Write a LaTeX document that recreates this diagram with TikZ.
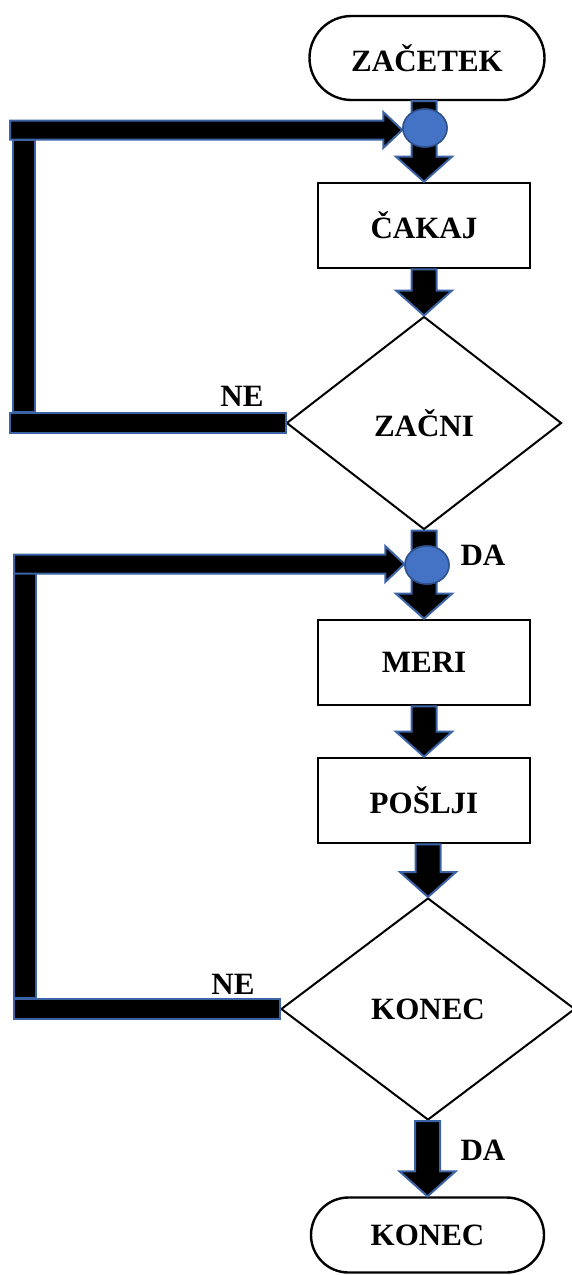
\documentclass[tikz,border=0pt]{standalone}
\usepackage{fontspec}
\setmainfont{Liberation Serif}
\usetikzlibrary{shapes.geometric,calc}
\definecolor{arrowblue}{HTML}{3C63A5}
\definecolor{jfill}{HTML}{4472C4}
\definecolor{jdraw}{HTML}{2F528F}
\newcommand\flowdown[2]{\path[blockarrow] let \p1=(#1), \p2=(#2) in
  (\x2-12.5pt,\y1) -- (\x2+12.5pt,\y1) -- (\x2+12.5pt,\y2+25pt) -- (\x2+28pt,\y2+25pt)
  -- (\x2,\y2) -- (\x2-28pt,\y2+25pt) -- (\x2-12.5pt,\y2+25pt) -- cycle;}
\newcommand\flowright[2]{\path[blockarrow] let \p1=(#1), \p2=(#2) in
  (\x1,\y1+9.5pt) -- (\x2-19pt,\y1+9.5pt) -- (\x2-19pt,\y1+18pt) -- (\x2,\y1)
  -- (\x2-19pt,\y1-18pt) -- (\x2-19pt,\y1-9.5pt) -- (\x1,\y1-9.5pt) -- cycle;}
\newcommand\flowbarh[2]{\path[blockarrow] let \p1=(#1), \p2=(#2) in
  (\x2,\y1+10pt) rectangle (\x1,\y1-10pt);}
\newcommand\flowbarv[2]{\path[blockarrow] let \p1=(#1), \p2=(#2) in
  (\x1-11pt,\y1) rectangle (\x1+11pt,\y2);}
\begin{document}
\begin{tikzpicture}[x=1pt,y=-1pt,
  every node/.style={font=\fontsize{31}{33}\selectfont\bfseries},
  term/.style={draw=black, line width=2.4pt, fill=white, rectangle, inner sep=0pt},
  proc/.style={draw=black, line width=2.6pt, fill=white, rectangle, minimum width=212pt, minimum height=85pt, inner sep=0pt},
  decision/.style={draw=black, line width=2pt, fill=white, diamond, inner sep=0pt},
  junction/.style={ellipse, fill=jfill, draw=jdraw, line width=1.5pt, minimum width=44pt, minimum height=38pt, inner sep=0pt},
  blockarrow/.style={fill=black, draw=arrowblue, line width=2pt, line join=miter},
  lbl/.style={inner sep=0pt}]
\useasboundingbox (0,0) rectangle (571,1275);

% nodes
\node[term, minimum width=235pt, minimum height=84pt, rounded corners=42pt] (start) at (427,58) {ZAČETEK};
\node[proc] (wait) at (424,225.5) {ČAKAJ};
\node[decision, minimum width=275pt, minimum height=213pt] (zacni) at (424,423) {ZAČNI};
\node[proc] (meri) at (424,662.5) {MERI};
\node[proc] (poslji) at (424,800.5) {POŠLJI};
\node[decision, minimum width=294pt, minimum height=222pt] (konec) at (428,1009) {KONEC};
\node[term, minimum width=233pt, minimum height=75pt, rounded corners=37.5pt] (end) at (427.5,1235) {KONEC};

% loop coordinates
\coordinate (l1top) at (10,130);
\coordinate (l1vt) at (24,140);
\coordinate (l1vb) at (24,412);
\coordinate (l1bot) at (10,422);
\coordinate (l2top) at (14,564);
\coordinate (l2vt) at (25,573);
\coordinate (l2vb) at (25,998);
\coordinate (l2bot) at (14,1008);

% vertical flow arrows
\flowdown{start.south}{wait.north}
\flowdown{wait.south}{zacni.north}
\flowdown{zacni.south}{meri.north}
\flowdown{meri.south}{poslji.north}
\flowdown{poslji.south}{konec.north}
\flowdown{konec.south}{end.north}

% loop back connectors
\flowbarh{zacni.west}{l1bot}
\flowbarv{l1vt}{l1vb}
\flowbarh{konec.west}{l2bot}
\flowbarv{l2vt}{l2vb}

% junctions
\node[junction] (j1) at (425,128) {};
\node[junction] (j2) at (427,565) {};
\flowright{l1top}{j1.west}
\flowright{l2top}{j2.west}
\node[junction] at (j1) {};
\node[junction] at (j2) {};

% labels
\node[lbl] (ne1) at (242,396) {NE};
\node[lbl] (da1) at (483,555) {DA};
\node[lbl] (ne2) at (233,984) {NE};
\node[lbl] (da2) at (483,1150) {DA};
\end{tikzpicture}
\end{document}
